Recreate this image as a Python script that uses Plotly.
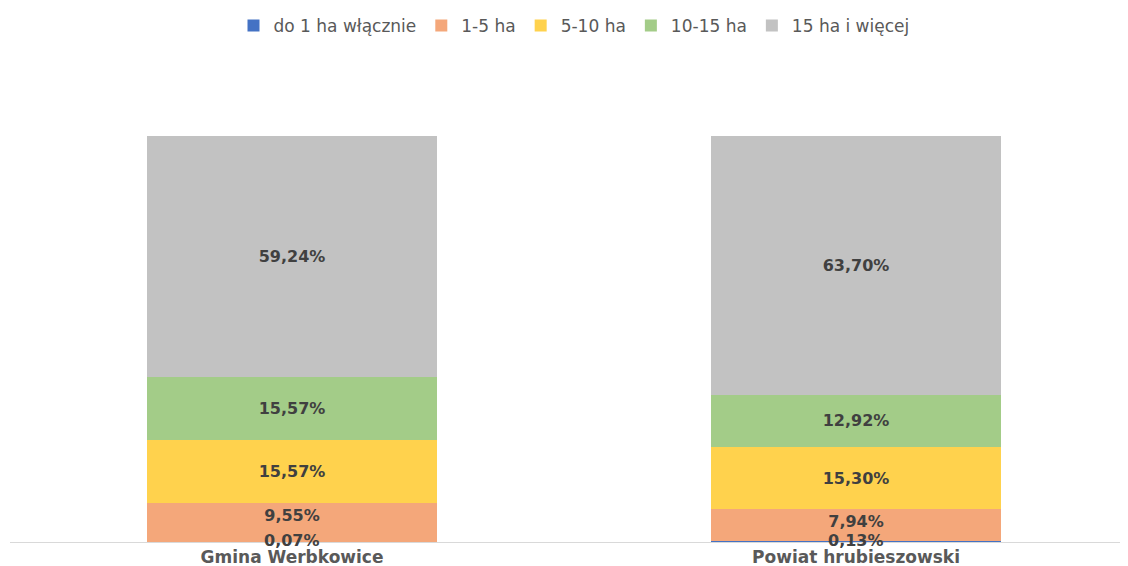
import plotly.graph_objects as go

categories = ['Gmina Werbkowice', 'Powiat hrubieszowski']
series_names = ['do 1 ha włącznie', '1-5 ha', '5-10 ha', '10-15 ha', '15 ha i więcej']
values = [
    [0.07, 0.13],
    [9.55, 7.94],
    [15.57, 15.30],
    [15.57, 12.92],
    [59.24, 63.70],
]
legend_colors = ['#4472C4', '#ED7D31', '#FFC000', '#70AD47', '#A5A5A5']
fill_colors = ['#4472C4', '#F4A77A', '#FFD24D', '#A3CC88', '#C2C2C2']


def fmt(v):
    return f'{v:.2f}'.replace('.', ',') + '%'


label_font = {'family': 'DejaVu Sans', 'size': 16, 'color': '#404040', 'weight': 'bold'}

fig = go.Figure()
for i, (name, vals, fill) in enumerate(zip(series_names, values, fill_colors)):
    fig.add_trace(
        go.Bar(
            x=categories,
            y=vals,
            name=name,
            text=None if i == 0 else [fmt(v) for v in vals],
            textposition='inside',
            insidetextanchor='end' if i == 1 else 'middle',
            constraintext='none',
            textangle=0,
            textfont=label_font,
            marker={'color': fill, 'line': {'width': 0}},
            width=0.514,
        )
    )

# the tiny first segment: label it at its own value, sitting on the axis
for cat, v in zip(categories, values[0]):
    fig.add_annotation(
        x=cat, y=v / 2, text=fmt(v), showarrow=False,
        font=label_font, yshift=1,
    )

fig.update_layout(
    barmode='stack',
    width=1130,
    height=566,
    paper_bgcolor='white',
    plot_bgcolor='white',
    margin={'l': 2, 'r': 0, 't': 128, 'b': 32},
    font={'family': 'DejaVu Sans', 'color': '#595959'},
    legend={
        'orientation': 'h',
        'x': 0.5,
        'xanchor': 'center',
        'y': 1.0,
        'yref': 'container',
        'yanchor': 'top',
        'font': {'size': 17, 'color': '#595959'},
        'traceorder': 'normal',
        'itemwidth': 30,
    },
    showlegend=True,
    xaxis={
        'showline': True,
        'linecolor': '#D9D9D9',
        'linewidth': 1,
        'ticks': '',
        'tickfont': {'size': 17, 'color': '#595959', 'weight': 'bold'},
        'automargin': False,
        'ticklabelstandoff': 0,
    },
    yaxis={
        'range': [0, 100],
        'visible': False,
    },
)

fig.write_html('out.html')
